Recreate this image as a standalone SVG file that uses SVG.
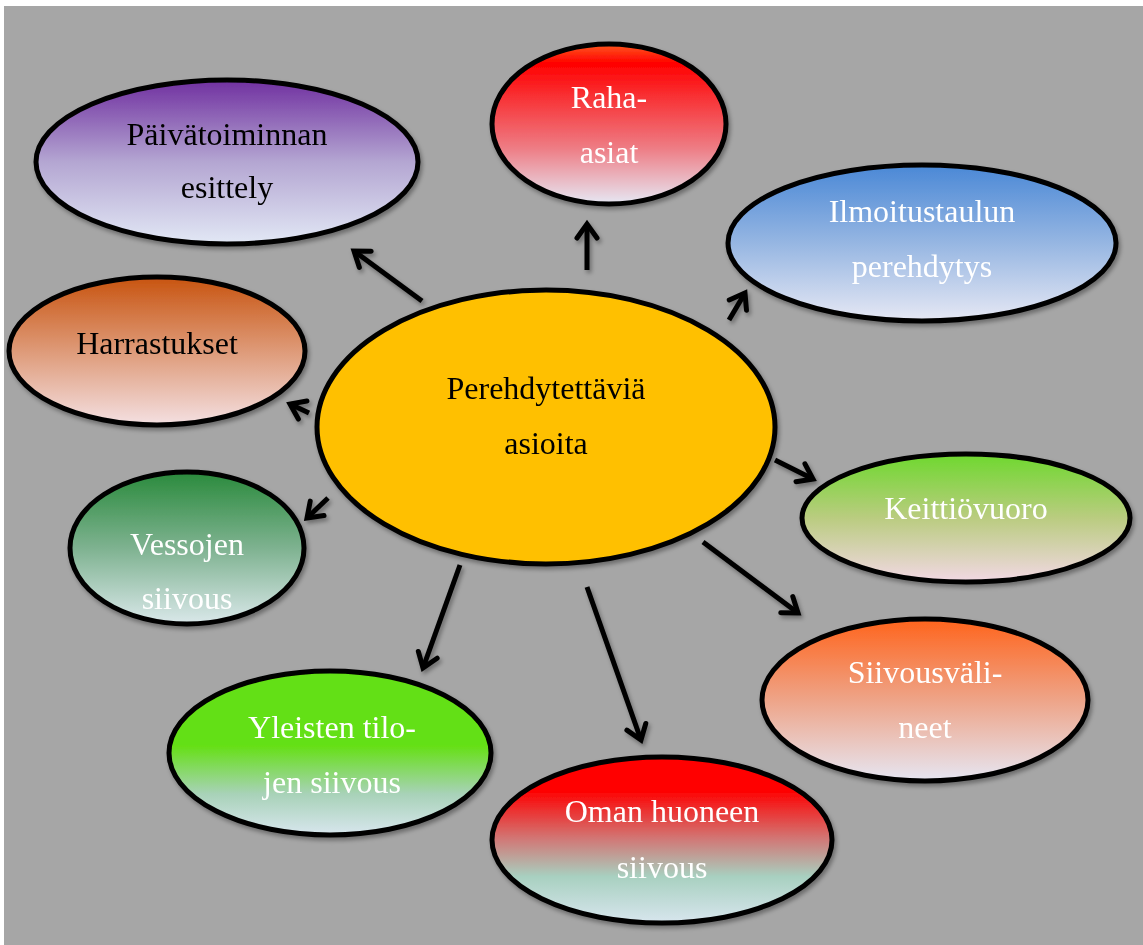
<svg xmlns="http://www.w3.org/2000/svg" width="1143" height="945" viewBox="0 0 1143 945">
<style>
.node{stroke:#000;stroke-width:5}
.t{font-family:"Liberation Serif","Times New Roman",serif;font-size:32px;text-anchor:middle}
.w{fill:#fff}
.b{fill:#000}
.c{fill:none;stroke:#000;stroke-width:5;marker-end:url(#ah)}
</style>
<defs>
<filter id="sh" x="-20%" y="-20%" width="140%" height="140%">
<feDropShadow dx="2" dy="3" stdDeviation="2" flood-color="#000" flood-opacity="0.35"/>
</filter>
<marker id="ah" markerUnits="userSpaceOnUse" markerWidth="40" markerHeight="40" viewBox="-20 -20 40 40" refX="0" refY="0" orient="auto">
<path d="M-14,-10 L0,0 L-14,10" fill="none" stroke="#000" stroke-width="5" stroke-linejoin="miter" stroke-linecap="round"/>
</marker>
<linearGradient id="gPurple" x1="0" y1="0" x2="0" y2="1">
<stop offset="0" stop-color="#7030A0"/><stop offset="0.5" stop-color="#B4A6D2"/><stop offset="1" stop-color="#E2E8F5"/>
</linearGradient>
<linearGradient id="gRed" x1="0" y1="0" x2="0" y2="1">
<stop offset="0" stop-color="#FF5A1E"/><stop offset="0.12" stop-color="#FF0000"/><stop offset="0.65" stop-color="#EE7C84"/><stop offset="1" stop-color="#E6E8F4"/>
</linearGradient>
<linearGradient id="gBlue" x1="0" y1="0" x2="0" y2="1">
<stop offset="0" stop-color="#4A88D6"/><stop offset="0.5" stop-color="#96B6E2"/><stop offset="1" stop-color="#E6E8F4"/>
</linearGradient>
<linearGradient id="gBrown" x1="0" y1="0" x2="0" y2="1">
<stop offset="0" stop-color="#C85410"/><stop offset="0.5" stop-color="#DE9A78"/><stop offset="1" stop-color="#F4E0E2"/>
</linearGradient>
<linearGradient id="gLime" x1="0" y1="0" x2="0" y2="1">
<stop offset="0" stop-color="#6ED82E"/><stop offset="0.5" stop-color="#BACC80"/><stop offset="1" stop-color="#F2D8E4"/>
</linearGradient>
<linearGradient id="gDkGreen" x1="0" y1="0" x2="0" y2="1">
<stop offset="0" stop-color="#2A8A3C"/><stop offset="0.5" stop-color="#7EB290"/><stop offset="1" stop-color="#DAE8EA"/>
</linearGradient>
<linearGradient id="gGreen" x1="0" y1="0" x2="0" y2="1">
<stop offset="0" stop-color="#64E012"/><stop offset="0.45" stop-color="#64E012"/><stop offset="0.75" stop-color="#A8D2B8"/><stop offset="1" stop-color="#D8E6EE"/>
</linearGradient>
<linearGradient id="gRed2" x1="0" y1="0" x2="0" y2="1">
<stop offset="0" stop-color="#FF0000"/><stop offset="0.2" stop-color="#FF0000"/><stop offset="0.5" stop-color="#D07A78"/><stop offset="0.72" stop-color="#A8D0C0"/><stop offset="1" stop-color="#D8E6EE"/>
</linearGradient>
<linearGradient id="gOrange" x1="0" y1="0" x2="0" y2="1">
<stop offset="0" stop-color="#FF641C"/><stop offset="0.5" stop-color="#EEA488"/><stop offset="1" stop-color="#E6E6F2"/>
</linearGradient>
</defs>
<rect x="4" y="6" width="1139" height="939" fill="#A6A6A6"/>
<g id="connectors" filter="url(#sh)">
<line class="c" x1="422" y1="301" x2="354" y2="251"/>
<line class="c" x1="309" y1="413" x2="290" y2="404"/>
<line class="c" x1="587" y1="270" x2="587" y2="224"/>
<line class="c" x1="729" y1="320" x2="745" y2="293"/>
<line class="c" x1="775" y1="460" x2="813" y2="479"/>
<line class="c" x1="703" y1="542" x2="798" y2="613"/>
<line class="c" x1="328" y1="498" x2="307" y2="518"/>
<line class="c" x1="460" y1="565" x2="423" y2="668"/>
<line class="c" x1="587" y1="587" x2="641" y2="740"/>
</g>
<g id="n-paivatoiminta" filter="url(#sh)">
<ellipse class="node" cx="227" cy="162" rx="191" ry="82" fill="url(#gPurple)"/>
<text class="t b" x="227" y="145">Päivätoiminnan</text>
<text class="t b" x="227" y="198">esittely</text>
</g>
<g id="n-raha" filter="url(#sh)">
<ellipse class="node" cx="609" cy="124" rx="117" ry="80" fill="url(#gRed)"/>
<text class="t w" x="609" y="108">Raha-</text>
<text class="t w" x="609" y="163">asiat</text>
</g>
<g id="n-ilmoitus" filter="url(#sh)">
<ellipse class="node" cx="922" cy="243" rx="194" ry="78" fill="url(#gBlue)"/>
<text class="t w" x="922" y="222">Ilmoitustaulun</text>
<text class="t w" x="922" y="277">perehdytys</text>
</g>
<g id="n-harrastukset" filter="url(#sh)">
<ellipse class="node" cx="157" cy="351" rx="148" ry="74" fill="url(#gBrown)"/>
<text class="t b" x="157" y="354">Harrastukset</text>
</g>
<g id="n-keskus" filter="url(#sh)">
<ellipse class="node" cx="546" cy="427" rx="229" ry="137" fill="#FFC000"/>
<text class="t b" x="546" y="399">Perehdytettäviä</text>
<text class="t b" x="546" y="454">asioita</text>
</g>
<g id="n-keittio" filter="url(#sh)">
<ellipse class="node" cx="966" cy="518" rx="164" ry="64" fill="url(#gLime)"/>
<text class="t w" x="966" y="519">Keittiövuoro</text>
</g>
<g id="n-vessat" filter="url(#sh)">
<ellipse class="node" cx="187" cy="548" rx="117" ry="76" fill="url(#gDkGreen)"/>
<text class="t w" x="187" y="555">Vessojen</text>
<text class="t w" x="187" y="609">siivous</text>
</g>
<g id="n-yleiset" filter="url(#sh)">
<ellipse class="node" cx="330" cy="753" rx="161" ry="82" fill="url(#gGreen)"/>
<text class="t w" x="332" y="738">Yleisten tilo-</text>
<text class="t w" x="332" y="793">jen siivous</text>
</g>
<g id="n-oma" filter="url(#sh)">
<ellipse class="node" cx="662" cy="840" rx="170" ry="83" fill="url(#gRed2)"/>
<text class="t w" x="662" y="822">Oman huoneen</text>
<text class="t w" x="662" y="878">siivous</text>
</g>
<g id="n-valineet" filter="url(#sh)">
<ellipse class="node" cx="925" cy="700" rx="163" ry="81" fill="url(#gOrange)"/>
<text class="t w" x="925" y="683">Siivousväli-</text>
<text class="t w" x="925" y="738">neet</text>
</g>
</svg>
